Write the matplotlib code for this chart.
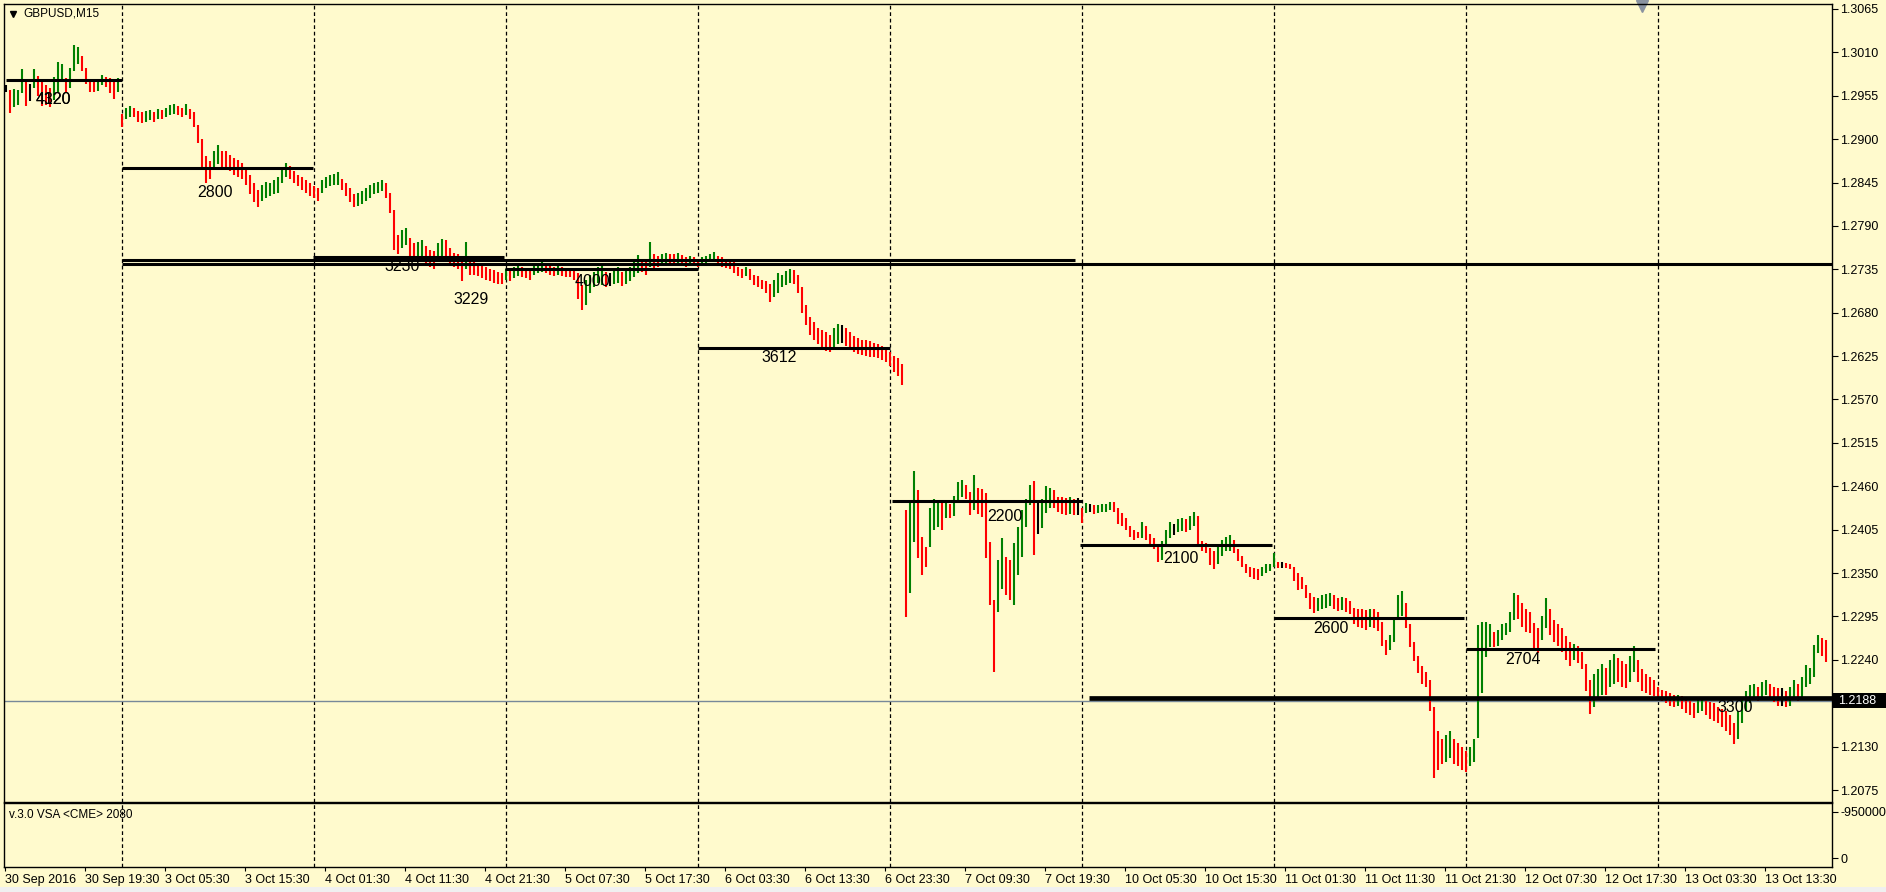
import numpy as np
import matplotlib.pyplot as plt

plt.rcParams['font.family'] = ['Liberation Sans', 'DejaVu Sans']

W, H = 1886, 892
BG = '#fffacd'

# GBPUSD 30 min bars, pips above 1.2000
bar_high = [
    # 30 Sep
    969, 962, 963, 962, 989, 976, 970, 989, 980, 975, 968, 965, 979, 998, 995,
    978, 990, 1019, 1017, 1005, 990, 975, 972, 974, 981, 979, 978, 975, 978,
    # 3 Oct
    932, 940, 942, 940, 936, 934, 936, 937, 935, 938, 937, 940, 943, 945, 942, 940,
    944, 938, 935, 918, 900, 878, 872, 885, 892, 885, 885, 880, 876, 874, 870, 862,
    855, 845, 835, 842, 846, 845, 848, 852, 865, 870, 866, 860, 855, 852, 848, 845,
    # 4 Oct
    840, 838, 848, 852, 855, 856, 858, 850, 845, 838, 830, 832, 834, 838, 842, 845,
    846, 848, 844, 832, 810, 778, 785, 788, 775, 768, 770, 772, 765, 760, 758, 768,
    774, 772, 762, 756, 755, 750, 770, 748, 745, 742, 740, 738, 736, 734, 732, 730,
    # 5 Oct
    735, 734, 738, 740, 738, 737, 735, 740, 743, 745, 742, 740, 738, 740, 738, 737,
    736, 735, 730, 715, 722, 728, 732, 738, 743, 732, 730, 735, 738, 732, 736, 738,
    745, 753, 748, 746, 770, 755, 752, 754, 756, 755, 754, 756, 753, 750, 752, 750,
    # 6 Oct
    748, 750, 752, 755, 757, 752, 750, 748, 747, 745, 738, 735, 738, 736, 728, 726,
    722, 720, 716, 722, 730, 728, 733, 735, 734, 728, 712, 690, 675, 668, 660, 658,
    655, 652, 660, 666, 664, 660, 656, 650, 648, 646, 645, 644, 642, 640, 638, 636,
    # 7 Oct
    630, 625, 622, 615, 430, 439, 479, 455, 396, 383, 432, 444, 442, 440, 440, 438,
    448, 465, 468, 462, 453, 474, 458, 456, 452, 389, 316, 367, 395, 370, 367, 388,
    409, 430, 444, 461, 467, 440, 444, 460, 458, 455, 447, 446, 445, 446, 444, 445,
    # 10 Oct
    432, 439, 438, 436, 436, 437, 438, 440, 440, 432, 426, 420, 410, 405, 402, 415,
    410, 400, 395, 385, 390, 405, 415, 412, 418, 420, 418, 422, 427, 422, 390, 388,
    382, 378, 385, 392, 396, 398, 392, 380, 372, 362, 358, 356, 355, 358, 362, 362,
    # 11 Oct
    375, 364, 364, 363, 362, 358, 350, 345, 335, 325, 320, 318, 322, 324, 325, 322,
    318, 320, 318, 315, 306, 305, 304, 303, 305, 304, 300, 288, 265, 272, 290, 322,
    327, 312, 285, 262, 245, 232, 225, 214, 180, 150, 140, 145, 150, 140, 135, 130,
    # 12 Oct
    125, 130, 140, 284, 288, 288, 286, 275, 278, 285, 287, 300, 325, 322, 312, 305,
    300, 287, 280, 295, 318, 305, 290, 285, 280, 270, 262, 260, 258, 250, 235, 215,
    222, 228, 235, 230, 240, 247, 242, 238, 235, 245, 257, 240, 228, 222, 218, 215,
    # 13 Oct
    205, 202, 200, 198, 195, 196, 194, 190, 188, 185, 190, 192, 188, 186, 185, 180,
    178, 175, 170, 160, 175, 190, 200, 208, 210, 205, 212, 215, 210, 206, 204, 204,
    200, 205, 214, 210, 218, 233, 230, 259, 272, 268, 265,
]
bar_low = [
    # 30 Sep
    960, 933, 941, 943, 958, 942, 948, 965, 955, 942, 943, 941, 950, 960, 976,
    960, 965, 987, 995, 986, 970, 960, 960, 961, 968, 966, 958, 951, 960,
    # 3 Oct
    915, 925, 928, 928, 922, 920, 922, 924, 922, 925, 926, 928, 930, 932, 930, 928,
    930, 925, 915, 895, 865, 845, 850, 862, 868, 865, 862, 860, 855, 852, 850, 842,
    830, 820, 814, 822, 826, 828, 830, 832, 845, 852, 850, 845, 840, 836, 832, 828,
    # 4 Oct
    825, 822, 832, 838, 840, 842, 842, 835, 828, 820, 814, 815, 818, 822, 826, 830,
    832, 834, 826, 806, 760, 755, 762, 766, 752, 745, 748, 750, 742, 738, 735, 748,
    752, 748, 740, 738, 735, 720, 735, 728, 728, 726, 724, 722, 720, 718, 716, 716,
    # 5 Oct
    722, 720, 724, 726, 725, 724, 722, 728, 730, 732, 730, 728, 727, 728, 726, 725,
    725, 722, 698, 683, 690, 705, 712, 718, 715, 712, 714, 716, 718, 714, 716, 720,
    725, 730, 732, 728, 738, 737, 738, 740, 742, 742, 741, 742, 740, 738, 740, 739,
    # 6 Oct
    738, 740, 742, 744, 745, 740, 738, 737, 735, 730, 726, 724, 726, 722, 715, 713,
    710, 705, 694, 700, 705, 712, 715, 718, 716, 705, 680, 665, 652, 645, 640, 636,
    632, 630, 636, 640, 642, 638, 636, 630, 628, 626, 625, 624, 624, 622, 620, 618,
    # 7 Oct
    612, 605, 600, 588, 294, 325, 389, 369, 348, 358, 383, 405, 408, 405, 420, 420,
    422, 440, 446, 444, 424, 430, 425, 421, 369, 310, 225, 300, 330, 322, 316, 310,
    348, 370, 408, 436, 373, 400, 407, 426, 432, 432, 428, 425, 424, 425, 424, 423,
    # 10 Oct
    413, 426, 427, 425, 426, 427, 428, 430, 427, 412, 410, 405, 396, 392, 394, 395,
    392, 386, 380, 364, 366, 385, 395, 398, 402, 403, 402, 405, 410, 385, 378, 376,
    360, 355, 362, 372, 378, 378, 375, 365, 358, 350, 345, 342, 341, 346, 350, 352,
    # 11 Oct
    358, 357, 357, 357, 355, 340, 329, 330, 318, 305, 299, 302, 305, 306, 308, 304,
    302, 303, 301, 298, 285, 282, 280, 278, 282, 280, 276, 258, 246, 252, 262, 292,
    295, 280, 256, 238, 223, 210, 205, 175, 90, 100, 108, 110, 115, 108, 105, 100,
    # 12 Oct
    98, 105, 110, 141, 198, 244, 256, 256, 258, 265, 271, 275, 290, 292, 282, 275,
    274, 255, 249, 265, 280, 272, 262, 258, 250, 240, 232, 240, 236, 228, 200, 171,
    180, 190, 195, 195, 205, 210, 212, 205, 204, 212, 225, 212, 200, 198, 196, 194,
    # 13 Oct
    190, 188, 185, 182, 180, 182, 178, 172, 170, 166, 172, 175, 170, 165, 162, 160,
    155, 150, 145, 133, 140, 160, 175, 185, 190, 188, 192, 195, 190, 186, 182, 182,
    180, 182, 190, 188, 192, 205, 210, 218, 249, 245, 237,
]

# horizontal VSA levels: price, first bar, last bar (M15 bar index)
level_price = [1.2975, 1.28635, 1.27468, 1.27418, 1.27506, 1.27354,
               1.2635, 1.24413, 1.23856, 1.2293, 1.22537]
level_from = [0.5, 58.5, 58.5, 58.5, 154, 250, 346.5, 443.5, 537.5, 634.5, 730.5]
level_to = [58.5, 154, 535, 913.5, 249.5, 346.5, 442.5, 538.5, 633.5, 729.5, 825]
thick_level = (1.2192, 542, 913.5)

level_text = ['4320', '4120', '2800', '3230', '3229', '4000', '3612',
              '2200', '2100', '2600', '2704', '3300']
text_bar = [24, 24, 105, 198.5, 233, 293.5, 387, 500, 588, 663, 759, 865]
text_price = [1.2950, 1.2950, 1.2833, 1.2739, 1.2697, 1.2719, 1.2623,
              1.2422, 1.2369, 1.2280, 1.2241, 1.2179]

time_labels = ['30 Sep 2016', '30 Sep 19:30', '3 Oct 05:30', '3 Oct 15:30',
               '4 Oct 01:30', '4 Oct 11:30', '4 Oct 21:30', '5 Oct 07:30',
               '5 Oct 17:30', '6 Oct 03:30', '6 Oct 13:30', '6 Oct 23:30',
               '7 Oct 09:30', '7 Oct 19:30', '10 Oct 05:30', '10 Oct 15:30',
               '11 Oct 01:30', '11 Oct 11:30', '11 Oct 21:30', '12 Oct 07:30',
               '12 Oct 17:30', '13 Oct 03:30', '13 Oct 13:30']
day_breaks = [58.5, 154.5, 250.5, 346.5, 442.5, 538.5, 634.5, 730.5, 826.5]

price_ticks = [1.3065, 1.3010, 1.2955, 1.2900, 1.2845, 1.2790, 1.2735, 1.2680,
               1.2625, 1.2570, 1.2515, 1.2460, 1.2405, 1.2350, 1.2295, 1.2240,
               1.2130, 1.2075]
last_price = 1.2188

hi = 1.2 + np.array(bar_high) / 10000
lo = 1.2 + np.array(bar_low) / 10000
xb = 0.5 + 2 * np.arange(len(hi))
mid = (hi + lo) / 2
step = np.diff(mid, prepend=mid[0])
cols = np.where(step > 0, '#008000', np.where(step < 0, '#ff0000', '#000000'))

fig = plt.figure(figsize=(W / 100, H / 100), dpi=100, facecolor=BG)
ax = fig.add_axes([4 / W, 1 - 802 / H, 1828 / W, 798 / H], facecolor=BG)
ax2 = fig.add_axes([4 / W, 1 - 867 / H, 1828 / W, 64 / H], facecolor=BG)

xl = (-0.5, 913.5)
ax.set_xlim(xl)
ax.set_ylim(1.20598, 1.30713)
ax2.set_xlim(xl)
ax2.set_ylim(0, 1)

for a in (ax, ax2):
    for s in a.spines.values():
        s.set_linewidth(1.0)
        s.set_color('black')
    for d in day_breaks:
        a.axvline(d, color='black', lw=0.9, ls=(0, (3, 2.2)), zorder=1)

ax.axhline(last_price, color='#778899', lw=1.0, zorder=1)
ax.vlines(xb, lo, hi, colors=cols, lw=1.5, zorder=2)

ax.hlines(level_price, level_from, level_to, colors='black', lw=2.2, zorder=3)
ax.hlines(thick_level[0], thick_level[1], thick_level[2], colors='black', lw=3.4, zorder=3)
for t, xt, yt in zip(level_text, text_bar, text_price):
    ax.text(xt, yt, t, ha='center', va='center', fontsize=11.5, color='black', zorder=4)

# right price scale
ax.yaxis.tick_right()
ax.set_yticks(price_ticks)
ax.set_yticklabels(['%.4f' % p for p in price_ticks])
ax.tick_params(axis='y', direction='out', length=4, width=0.8, pad=2, labelsize=9)
ax.set_xticks([])

# current price tag
y_tag = 1 - (802 - (last_price - 1.20598) / (1.30713 - 1.20598) * 798) / H
fig.patches.append(plt.Rectangle((1833 / W, y_tag - 7.5 / H), 53 / W, 15 / H,
                                 transform=fig.transFigure, facecolor='black',
                                 edgecolor='none', zorder=5))
fig.text(1838 / W, y_tag, '1.2188', ha='left', va='center', fontsize=9,
         color='white', zorder=6)

ax2.yaxis.tick_right()
ax2.set_yticks([0.86, 0.14])
ax2.set_yticklabels(['-9500000', '0'])
ax2.tick_params(axis='y', direction='out', length=4, width=0.8, pad=2, labelsize=9)
ax2.set_xticks([40 * n for n in range(len(time_labels))])
ax2.set_xticklabels(time_labels, ha='left')
ax2.tick_params(axis='x', direction='out', length=3, width=0.8, pad=2, labelsize=9)
ax2.text(0.003, 0.82, 'v.3.0 VSA <CME> 2080', transform=ax2.transAxes,
         ha='left', va='center', fontsize=8.5)

fig.text(23 / W, 1 - 14 / H, 'GBPUSD,M15', ha='left', va='center', fontsize=8.5)
ax.plot([12.5 / W], [1 - 14 / H], marker='v', color='black', ms=5,
        transform=fig.transFigure, clip_on=False)
ax.plot([1642 / W], [1 - 6 / H], marker='v', color='#8a93a0', ms=8,
        transform=fig.transFigure, clip_on=False)
fig.patches.append(plt.Rectangle((0, 0), 1, 5 / H, transform=fig.transFigure,
                                 facecolor='#f0f0f0', edgecolor='none'))

fig.savefig('out.png', dpi=100, facecolor=BG)
